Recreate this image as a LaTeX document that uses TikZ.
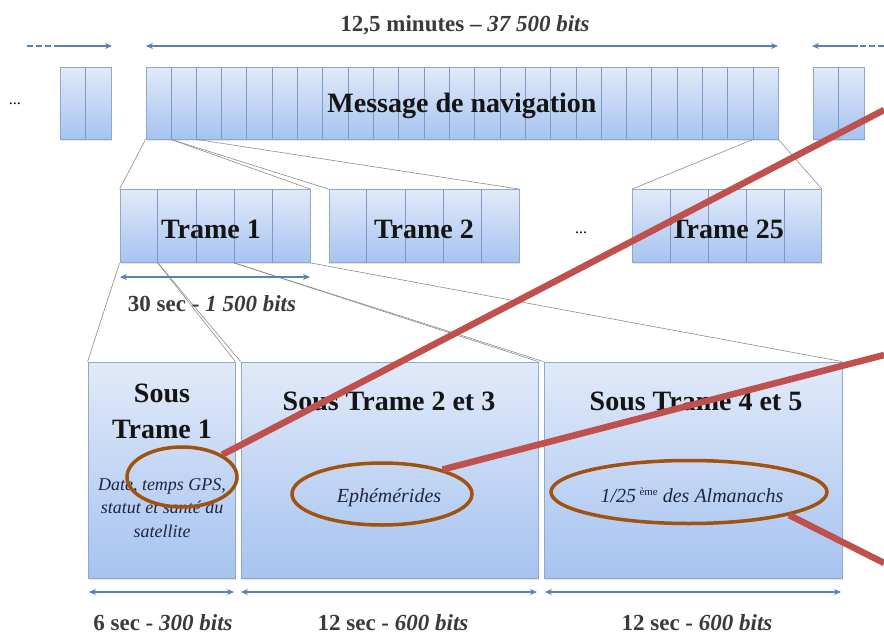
\documentclass[tikz,border=0pt]{standalone}
\usepackage{fontspec}
\setmainfont{Liberation Serif}
\usetikzlibrary{arrows.meta,shadows,calc,shapes.geometric}
\definecolor{boxtop}{HTML}{E1EAF9}
\definecolor{boxbot}{HTML}{A6C3F0}
\definecolor{boxline}{HTML}{8FA8CC}
\definecolor{cellline}{HTML}{7E9AC4}
\definecolor{arrowblue}{HTML}{5682B4}
\definecolor{fanline}{HTML}{8C8C8C}
\definecolor{labelgray}{HTML}{3A3A3A}
\definecolor{ringbrown}{HTML}{A0520E}
\definecolor{markred}{HTML}{C0504D}
\definecolor{inktext}{HTML}{1E2540}
\begin{document}
\begin{tikzpicture}[x=1pt,y=-1pt,
  blockbox/.style={rectangle,draw=boxline,line width=0.8pt,top color=boxtop,bottom color=boxbot,inner sep=0pt,
    drop shadow={opacity=0.22,shadow xshift=0.6pt,shadow yshift=-1.8pt}},
  cellsep/.style={draw=cellline,line width=0.8pt},
  fan/.style={draw=fanline,line width=0.6pt},
  span/.style={draw=arrowblue,line width=2pt,{Stealth[length=7pt,width=6pt]}-{Stealth[length=7pt,width=6pt]}},
  oneway/.style={draw=arrowblue,line width=2pt,-{Stealth[length=7pt,width=6pt]}},
  dashpart/.style={draw=arrowblue,line width=2pt,dash pattern=on 6pt off 3pt},
  bigtitle/.style={font=\fontsize{28}{30}\selectfont\bfseries,text=black!92,inner sep=0pt,anchor=base},
  lengthlabel/.style={font=\fontsize{23}{25}\selectfont\bfseries,text=labelgray,inner sep=0pt,anchor=base},
  content/.style={font=\fontsize{20}{22}\selectfont\itshape,text=inktext,inner sep=0pt,anchor=base},
  smallcontent/.style={font=\fontsize{18}{20}\selectfont\itshape,text=inktext,inner sep=0pt,anchor=base},
  dots/.style={font=\fontsize{16}{18}\selectfont,text=black,inner sep=0pt,anchor=base},
  ring/.style={ellipse,draw=ringbrown,line width=3.5pt,inner sep=0pt},
  redmark/.style={draw=markred,line width=6.5pt},
  redmarkshadow/.style={draw=black!60,line width=5pt,opacity=0.75,xshift=1pt,yshift=-2.5pt},
]
\useasboundingbox (0,0) rectangle (884,637);

% ---- boxes
\node[blockbox,minimum width=51pt,minimum height=72pt] (lft) at (85.5,103) {};
\node[blockbox,minimum width=632pt,minimum height=72pt] (msg) at (462,103) {};
\node[blockbox,minimum width=51pt,minimum height=72pt] (rgt) at (838.5,103) {};
\node[blockbox,minimum width=190pt,minimum height=73pt] (t1) at (215,226) {};
\node[blockbox,minimum width=190pt,minimum height=73pt] (t2) at (424,226) {};
\node[blockbox,minimum width=189pt,minimum height=73pt] (t25) at (727,226) {};
\node[blockbox,minimum width=147pt,minimum height=216pt] (s1) at (161.5,470) {};
\node[blockbox,minimum width=297pt,minimum height=216pt] (s2) at (389.5,470) {};
\node[blockbox,minimum width=298pt,minimum height=216pt] (s3) at (693,470) {};

% ---- cell dividers
\draw[cellsep] (lft.north) -- (lft.south);
\draw[cellsep] (rgt.north) -- (rgt.south);
\foreach \k in {1,...,24}
  \draw[cellsep] ($(msg.north west)!\k/25!(msg.north east)$) -- ($(msg.south west)!\k/25!(msg.south east)$);
\foreach \b in {t1,t2,t25}
  \foreach \k in {1,...,4}
    \draw[cellsep] ($(\b.north west)!\k/5!(\b.north east)$) -- ($(\b.south west)!\k/5!(\b.south east)$);

% ---- fan lines
\coordinate (m1) at ($(msg.south west)!1/25!(msg.south east)$);
\coordinate (m2) at ($(msg.south west)!2/25!(msg.south east)$);
\coordinate (m24) at ($(msg.south west)!24/25!(msg.south east)$);
\coordinate (f1) at ($(t1.south west)!1/5!(t1.south east)$);
\coordinate (f3) at ($(t1.south west)!3/5!(t1.south east)$);
\draw[fan] (msg.south west) -- (t1.north west);
\draw[fan] (m1) -- (t1.north east);
\draw[fan] (m1) -- (t2.north west);
\draw[fan] (m2) -- (t2.north east);
\draw[fan] (m24) -- (t25.north west);
\draw[fan] (msg.south east) -- (t25.north east);
\draw[fan] (t1.south west) -- (s1.north west);
\draw[fan] (f1) -- (s1.north east);
\draw[fan] (f1) -- (s2.north west);
\draw[fan] (f3) -- (s2.north east);
\draw[fan] (f3) -- (s3.north west);
\draw[fan] (t1.south east) -- (s3.north east);

% ---- span arrows
\coordinate (ta) at (146,46);
\coordinate (tb) at (778,46);
\draw[span] (ta) -- (tb);
\coordinate (la) at (27,46);
\coordinate (lb) at (56,46);
\coordinate (lc) at (112,46);
\draw[dashpart] (la) -- (lb);
\draw[oneway] (lb) -- (lc);
\coordinate (ra) at (884,46);
\coordinate (rb) at (858,46);
\coordinate (rc) at (812,46);
\draw[dashpart] (ra) -- (rb);
\draw[oneway] (rb) -- (rc);
\coordinate (t1a) at (120,277);
\coordinate (t1b) at (310,277);
\draw[span] (t1a) -- (t1b);
\coordinate (b1a) at (89,592);
\coordinate (b1b) at (234,592);
\coordinate (b2a) at (241,592);
\coordinate (b2b) at (537,592);
\coordinate (b3a) at (545,592);
\coordinate (b3b) at (841,592);
\draw[span] (b1a) -- (b1b);
\draw[span] (b2a) -- (b2b);
\draw[span] (b3a) -- (b3b);

% ---- texts
\node[lengthlabel] (totlen) at (465,31) {12,5 minutes -- \textit{37 500 bits}};
\node[dots] (dleft) at (15,104) {...};
\node[dots] (dmid) at (581,233) {...};
\node[bigtitle] (msgtxt) at (462,112) {Message de navigation};
\node[bigtitle] (t1txt) at (211,238) {Trame 1};
\node[bigtitle] (t2txt) at (424,238) {Trame 2};
\node[bigtitle] (t25txt) at (727,238) {Trame 25};
\node[lengthlabel] (t1len) at (212,311) {30 sec - \textit{1 500 bits}};
\node[bigtitle] (s1a) at (162,402) {Sous};
\node[bigtitle] (s1b) at (162,438) {Trame 1};
\node[bigtitle] (s2txt) at (389,410) {Sous Trame 2 et 3};
\node[bigtitle] (s3txt) at (696,410) {Sous Trame 4 et 5};
\node[smallcontent] (s1c1) at (162,490) {Date, temps GPS,};
\node[smallcontent] (s1c2) at (162,513.5) {statut et santé du};
\node[smallcontent] (s1c3) at (162,537) {satellite};
\node[content] (s2c) at (389,502) {Ephémérides};
\node[content] (s3c) at (692,502) {1/25\,\raisebox{7pt}{\fontsize{11}{11}\selectfont\upshape ème} des Almanachs};
\node[lengthlabel] (s1len) at (163,630) {6 sec - \textit{300 bits}};
\node[lengthlabel] (s2len) at (393,630) {12 sec - \textit{600 bits}};
\node[lengthlabel] (s3len) at (697,630) {12 sec - \textit{600 bits}};

% ---- highlight rings
\node[ring,minimum width=110pt,minimum height=60pt] (e1) at (182,477) {};
\node[ring,minimum width=180pt,minimum height=62pt] (e2) at (382,494) {};
\node[ring,minimum width=276pt,minimum height=63pt] (e3) at (689,492) {};

% ---- red marks
\coordinate (r1) at (884,110);
\coordinate (r2) at (884,355);
\coordinate (r3) at (884,563);
\draw[redmarkshadow] (e1.29) -- (r1);
\draw[redmark] (e1.29) -- (r1);
\draw[redmarkshadow] (e2.22) -- (r2);
\draw[redmark] (e2.22) -- (r2);
\draw[redmarkshadow] (e3.-13) -- (r3);
\draw[redmark] (e3.-13) -- (r3);
\end{tikzpicture}
\end{document}
